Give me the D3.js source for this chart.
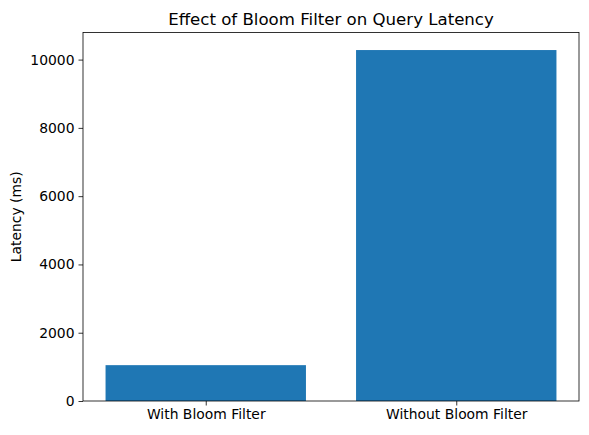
<!DOCTYPE html>
<html><head><meta charset="utf-8">
<script src="https://cdn.jsdelivr.net/npm/d3@7"></script>
<style>body{margin:0;background:#fff;} svg{display:block;font-family:"DejaVu Sans",sans-serif;}</style>
</head><body>
<script>
const categories = ["With Bloom Filter", "Without Bloom Filter"];
const latencies = [1050, 10280];
const yTicks = [0, 2000, 4000, 6000, 8000, 10000];
const title = "Effect of Bloom Filter on Query Latency";
const yLabel = "Latency (ms)";

const W = 589, H = 435;
const m = {left: 83, right: 10, top: 32.5, bottom: 34};
const svg = d3.select("body").append("svg").attr("width", W).attr("height", H);
const iw = W - m.left - m.right, ih = H - m.top - m.bottom;
const g = svg.append("g").attr("transform", `translate(${m.left},${m.top})`);

const x = d3.scaleLinear().domain([-0.49, 1.49]).range([0, iw]);
const y = d3.scaleLinear().domain([0, d3.max(latencies) * 1.05]).range([ih, 0]);

g.selectAll("rect.bar").data(latencies).join("rect").attr("class", "bar")
  .attr("x", (d, i) => x(i - 0.4)).attr("width", (d, i) => x(i + 0.4) - x(i - 0.4))
  .attr("y", d => y(d)).attr("height", d => ih - y(d)).attr("fill", "#1f77b4");

const xa = g.append("g").attr("transform", `translate(0,${ih})`)
  .call(d3.axisBottom(x).tickValues(categories.map((c, i) => i)).tickFormat(i => categories[i]).tickSize(4.5).tickPadding(4));
const ya = g.append("g")
  .call(d3.axisLeft(y).tickValues(yTicks).tickFormat(d3.format("d")).tickSize(4.5).tickPadding(4));
[xa, ya].forEach(a => {
  a.select(".domain").remove();
  a.selectAll("text").attr("font-size", 13.9).attr("fill", "#000").attr("font-family", "DejaVu Sans");
  a.selectAll("line").attr("stroke", "#000").attr("stroke-width", 0.8);
});

g.append("rect").attr("x", 0).attr("y", 0).attr("width", iw).attr("height", ih)
  .attr("fill", "none").attr("stroke", "#000").attr("stroke-width", 0.8);

svg.append("text").attr("x", m.left + iw / 2).attr("y", m.top - 8).attr("text-anchor", "middle")
  .attr("font-size", 16.6).attr("fill", "#000").text(title);
svg.append("text").attr("transform", `translate(21,${m.top + ih / 2}) rotate(-90)`)
  .attr("text-anchor", "middle").attr("font-size", 13.9).attr("fill", "#000").text(yLabel);
</script>
</body></html>
